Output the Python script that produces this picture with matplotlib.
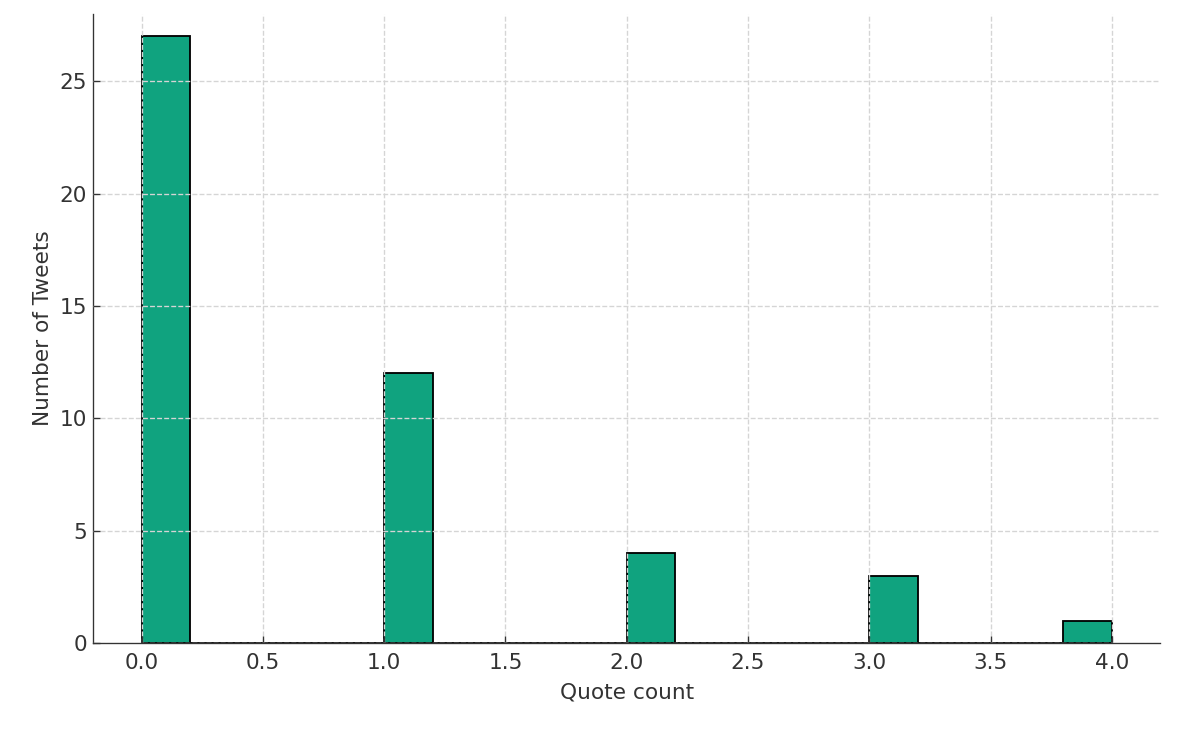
import matplotlib
matplotlib.use("Agg")
from matplotlib import pyplot as plt

# quote counts and how many tweets had each
quote_values = [0, 1, 2, 3, 4]
tweet_counts = [27, 12, 4, 3, 1]

plt.rcParams["text.color"] = "#333333"
plt.rcParams["axes.labelcolor"] = "#333333"
plt.rcParams["xtick.color"] = "#333333"
plt.rcParams["ytick.color"] = "#333333"

fig = plt.figure(figsize=(10, 6.075), dpi=120)
ax = fig.add_axes([0.0775, 0.118, 0.8895, 0.8628])

ax.hist(quote_values, bins=20, weights=tweet_counts,
        color="#10a37f", edgecolor="black", linewidth=1.1)

ax.set_ylim(0, 28)
ax.set_xlabel("Quote count", fontsize=13, labelpad=6)
ax.set_ylabel("Number of Tweets", fontsize=13)
ax.tick_params(labelsize=13, direction="in", length=4)
ax.tick_params(axis="x", pad=6)
ax.grid(True, linestyle="--", color="#d5d5d5", linewidth=0.8)
ax.set_axisbelow(False)
for s in ["top", "right"]:
    ax.spines[s].set_visible(False)
for s in ["left", "bottom"]:
    ax.spines[s].set_color("#333333")

fig.savefig("out.png", dpi=120)
